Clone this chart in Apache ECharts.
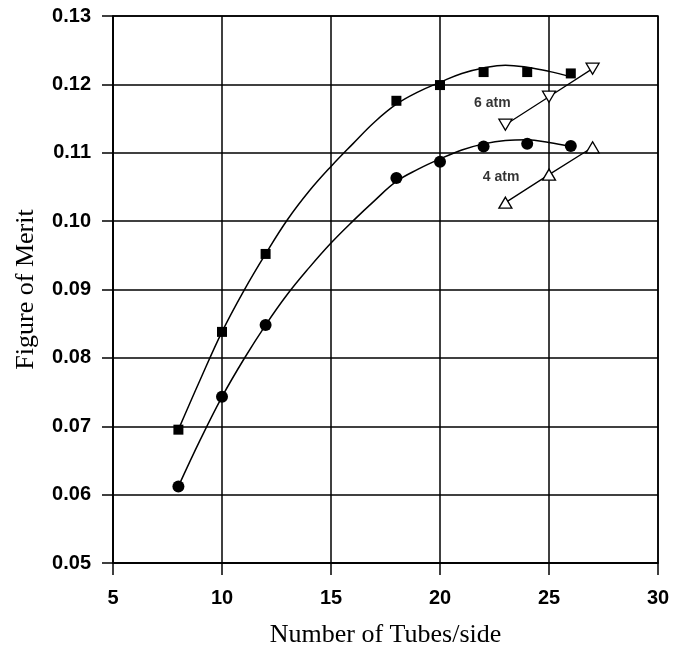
<!DOCTYPE html>
<html>
<head>
<meta charset="utf-8">
<script src="https://cdn.jsdelivr.net/npm/echarts@6/dist/echarts.min.js"></script>
<style>
  html, body { margin: 0; padding: 0; background: #fff; }
  #chart { width: 673px; height: 647px; }
</style>
</head>
<body>
<div id="chart"></div>
<script>
  // measured points
  const tubes = [8, 10, 12, 18, 20, 22, 24, 26]
  const merit6 = [0.0695, 0.0838, 0.0952, 0.1176, 0.1199, 0.1218, 0.1218, 0.1216]
  const merit4 = [0.0612, 0.0743, 0.0848, 0.1063, 0.1087, 0.1109, 0.1113, 0.1110]

  // fitted curves
  const fitX = [8, 9, 10, 11, 12, 13, 14, 15, 16, 17, 18, 19, 20, 21, 22, 23, 24, 25, 26]
  const fit6 = [0.0695, 0.0768, 0.0838, 0.0898, 0.0952, 0.1002, 0.1044, 0.1080, 0.1113, 0.1145, 0.1171, 0.1189, 0.1203, 0.1216, 0.1224, 0.1228, 0.1225, 0.1219, 0.1211]
  const fit4 = [0.0612, 0.0680, 0.0743, 0.0798, 0.0848, 0.0893, 0.0932, 0.0968, 0.1000, 0.1030, 0.1058, 0.1076, 0.1091, 0.1104, 0.1113, 0.1118, 0.1119, 0.1115, 0.1109]

  // open triangles
  const triX = [23, 25, 27]
  const tri6 = [0.1141, 0.1182, 0.1223]
  const tri4 = [0.1027, 0.1068, 0.1108]

  // text notes
  const noteText = ['6 atm', '4 atm']
  const noteX = [22.4, 22.8]
  const noteY = [0.1173, 0.1065]

  const pairs = (xs, ys) => xs.map((x, i) => [x, ys[i]])

  let myChart = echarts.init(document.getElementById('chart'))
  myChart.setOption({
    animation: false,
    backgroundColor: '#fff',
    grid: {
      left: 113, right: 15, top: 16, bottom: 84,
      outerBoundsMode: 'none',
      show: true, borderColor: '#000', borderWidth: 1.5
    },
    xAxis: {
      type: 'value',
      min: 5, max: 30, interval: 5,
      name: 'Number of Tubes/side',
      nameLocation: 'middle',
      nameGap: 59,
      nameTextStyle: { fontFamily: 'Liberation Serif', fontSize: 26, color: '#000' },
      axisLine: { show: true, lineStyle: { color: '#000', width: 1.5 } },
      axisTick: { show: true, length: 12, lineStyle: { color: '#000', width: 1.5 } },
      axisLabel: { margin: 25, fontFamily: 'Liberation Sans', fontWeight: 'bold', fontSize: 20, color: '#000' },
      splitLine: { show: true, lineStyle: { color: '#000', width: 1.5 } }
    },
    yAxis: {
      type: 'value',
      min: 0.05, max: 0.13, interval: 0.01,
      name: 'Figure of Merit',
      nameLocation: 'middle',
      nameGap: 74,
      nameRotate: 90,
      nameTextStyle: { fontFamily: 'Liberation Serif', fontSize: 26, color: '#000' },
      axisLine: { show: true, lineStyle: { color: '#000', width: 1.5 } },
      axisTick: { show: true, length: 11, lineStyle: { color: '#000', width: 1.5 } },
      axisLabel: {
        margin: 22, fontFamily: 'Liberation Sans', fontWeight: 'bold', fontSize: 20, color: '#000',
        formatter: v => v.toFixed(2)
      },
      splitLine: { show: true, lineStyle: { color: '#000', width: 1.5 } }
    },
    series: [
      {
        name: 'fit 6 atm', type: 'line', smooth: 0.4, showSymbol: false,
        lineStyle: { color: '#000', width: 1.5 },
        data: pairs(fitX, fit6)
      },
      {
        name: 'fit 4 atm', type: 'line', smooth: 0.4, showSymbol: false,
        lineStyle: { color: '#000', width: 1.5 },
        data: pairs(fitX, fit4)
      },
      {
        name: '6 atm', type: 'scatter', symbol: 'rect', symbolSize: 10,
        itemStyle: { color: '#000', opacity: 1 },
        data: pairs(tubes, merit6)
      },
      {
        name: '4 atm', type: 'scatter', symbol: 'circle', symbolSize: 12,
        itemStyle: { color: '#000', opacity: 1 },
        data: pairs(tubes, merit4)
      },
      {
        name: '6 atm tri', type: 'line', symbol: 'triangle', symbolSize: [13, 11], symbolRotate: 180,
        lineStyle: { color: '#000', width: 1.3 },
        itemStyle: { color: '#fff', borderColor: '#000', borderWidth: 1.3 },
        data: pairs(triX, tri6), z: 3
      },
      {
        name: '4 atm tri', type: 'line', symbol: 'triangle', symbolSize: [13, 11],
        lineStyle: { color: '#000', width: 1.3 },
        itemStyle: { color: '#fff', borderColor: '#000', borderWidth: 1.3 },
        data: pairs(triX, tri4), z: 3
      },
      {
        name: 'notes', type: 'scatter', symbolSize: 0,
        label: {
          show: true, position: 'inside',
          formatter: p => noteText[p.dataIndex],
          fontFamily: 'Liberation Sans', fontWeight: 'bold', fontSize: 14, color: '#000'
        },
        data: pairs(noteX, noteY)
      }
    ]
  })
</script>
</body>
</html>
